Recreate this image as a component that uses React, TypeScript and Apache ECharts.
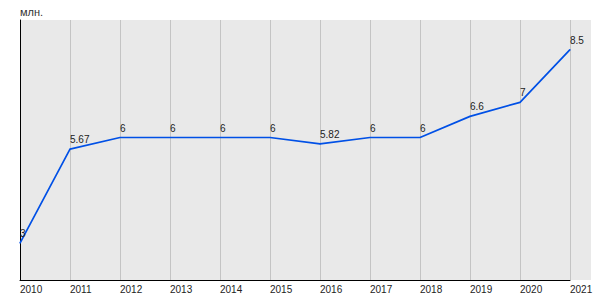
import React, { useEffect, useRef } from "react";
import * as echarts from "echarts";

const years = ["2010", "2011", "2012", "2013", "2014", "2015", "2016", "2017", "2018", "2019", "2020", "2021"];
const values = [3, 5.67, 6, 6, 6, 6, 5.82, 6, 6, 6.6, 7, 8.5];
const unitLabel = "млн.";

export default function App() {
  const ref = useRef<HTMLDivElement>(null);
  useEffect(() => {
    if (!ref.current) return;
    const chart = echarts.init(ref.current, undefined, { renderer: "svg" });
    chart.setOption({
      animation: false,
      textStyle: { fontFamily: "Arial, 'Liberation Sans', sans-serif" },
      grid: { left: 20, top: 20, width: 550, height: 260, containLabel: false },
      graphic: [
        {
          type: "rect",
          z: -10,
          silent: true,
          shape: { x: 20, y: 20, width: 571, height: 260 },
          style: { fill: "#e9e9e9" },
        },
        {
          type: "text",
          left: 20,
          top: 6,
          style: { text: unitLabel, fontSize: 11, fill: "#333", fontFamily: "Arial, 'Liberation Sans', sans-serif" },
        },
      ],
      xAxis: {
        type: "category",
        data: years,
        boundaryGap: false,
        axisTick: { show: false },
        axisLine: { lineStyle: { color: "#000", width: 1 } },
        splitLine: { show: true, lineStyle: { color: "#c4c4c4", width: 1 } },
        axisLabel: { align: "left", fontSize: 10, color: "#222", margin: 4 },
      },
      yAxis: {
        type: "value",
        min: 1.95,
        max: 9.34,
        axisLabel: { show: false },
        axisTick: { show: false },
        splitLine: { show: false },
        axisLine: { show: true, lineStyle: { color: "#000", width: 1 } },
      },
      series: [
        {
          type: "line",
          data: values,
          symbol: "circle",
          symbolSize: 1,
          showSymbol: true,
          itemStyle: { color: "#0050e6" },
          lineStyle: { color: "#0050e6", width: 1.7 },
          label: {
            show: true,
            position: "top",
            align: "left",
            distance: 4,
            fontSize: 10,
            color: "#222",
            formatter: (p: any) => String(p.value),
          },
          labelLayout: { hideOverlap: false },
        },
      ],
    });
    return () => chart.dispose();
  }, []);
  return <div ref={ref} style={{ width: 600, height: 300, position: "absolute", left: 0, top: 0 }} />;
}
